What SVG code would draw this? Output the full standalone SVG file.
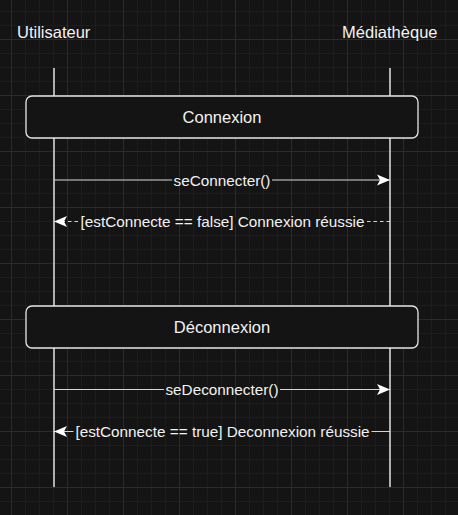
<svg xmlns="http://www.w3.org/2000/svg" width="458" height="515" viewBox="0 0 458 515">
<defs>
<pattern id="minor" patternUnits="userSpaceOnUse" x="11" y="11" width="14" height="14">
<path d="M0.5,0 V14 M0,0.5 H14" stroke="#1d1d1d" stroke-width="1" fill="none"/>
</pattern>
<pattern id="major" patternUnits="userSpaceOnUse" x="11" y="39" width="56" height="56">
<path d="M0.5,0 V56 M0,0.5 H56" stroke="#2b2b2b" stroke-width="1" fill="none"/>
</pattern>
<marker id="arrow" viewBox="0 0 14 12" refX="13" refY="6" markerWidth="14" markerHeight="12" markerUnits="userSpaceOnUse" orient="auto">
<path d="M13,6 L0,0.5 L3,6 L0,11.5 Z" fill="#ffffff"/>
</marker>
<style>
.hdr{font-family:"Liberation Sans",Arial,sans-serif;font-size:16.5px;fill:#f2f2f2}
.title{font-family:"Liberation Sans",Arial,sans-serif;font-size:16.5px;fill:#f2f2f2;text-anchor:middle}
.lbl{font-family:"Liberation Sans",Arial,sans-serif;font-size:15.3px;fill:#f2f2f2;text-anchor:middle}
.life{stroke:#ffffff;stroke-width:1.3;fill:none}
.box{fill:#141414;stroke:#e6e6e6;stroke-width:1.3}
.msg{stroke:#d6d6d6;stroke-width:1.2;fill:none;marker-end:url(#arrow)}
.ret{stroke-dasharray:3.5 3}
.bg{fill:#141414}
</style>
</defs>
<rect x="0" y="0" width="458" height="515" fill="#141414"/>
<rect x="0" y="0" width="458" height="515" fill="url(#minor)"/>
<rect x="0" y="0" width="458" height="515" fill="url(#major)"/>

<g id="utilisateur">
<text class="hdr" x="17" y="37.5">Utilisateur</text>
<line class="life" x1="54" y1="68" x2="54" y2="487"/>
</g>
<g id="mediatheque">
<text class="hdr" x="437.5" y="37.5" text-anchor="end">Médiathèque</text>
<line class="life" x1="390" y1="68" x2="390" y2="487"/>
</g>

<g id="connexion">
<rect class="box" x="26" y="96" width="392" height="42" rx="6" ry="6"/>
<text class="title" x="222" y="122.5">Connexion</text>
</g>
<g id="deconnexion">
<rect class="box" x="26" y="306" width="392" height="42" rx="6" ry="6"/>
<text class="title" x="222" y="332.5">Déconnexion</text>
</g>

<g id="connectors">
<line class="msg" x1="54" y1="180" x2="390" y2="180"/>
<rect class="bg" x="172" y="177" width="100" height="6"/>
<text class="lbl" x="222" y="185.5">seConnecter()</text>

<line class="msg ret" x1="390" y1="221.5" x2="54" y2="221.5"/>
<rect class="bg" x="78" y="218.5" width="289" height="6"/>
<text class="lbl" x="222.5" y="227">[estConnecte == false] Connexion réussie</text>

<line class="msg" x1="54" y1="389.5" x2="390" y2="389.5"/>
<rect class="bg" x="164" y="386.5" width="116" height="6"/>
<text class="lbl" x="222" y="395">seDeconnecter()</text>

<line class="msg" x1="390" y1="431.5" x2="54" y2="431.5"/>
<rect class="bg" x="73.5" y="428.5" width="298" height="6"/>
<text class="lbl" x="222.5" y="437">[estConnecte == true] Deconnexion réussie</text>
</g>
</svg>
